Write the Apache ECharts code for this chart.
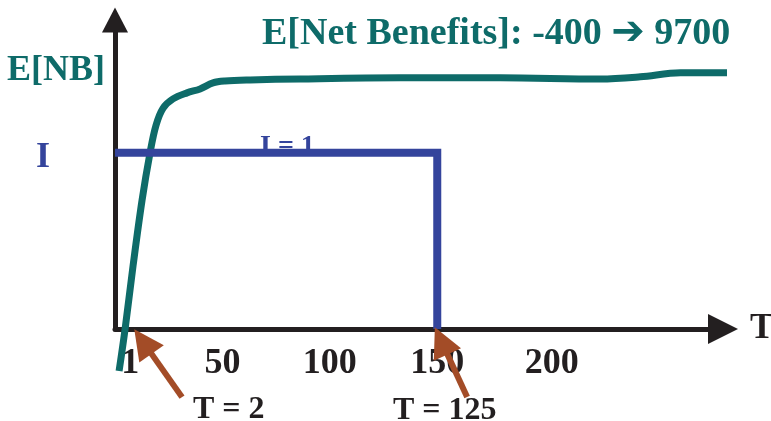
<!DOCTYPE html>
<html>
<head>
<meta charset="utf-8">
<script src="https://cdn.jsdelivr.net/npm/echarts@6/dist/echarts.min.js"></script>
<style>html,body{margin:0;padding:0;background:#fff}#c{width:771px;height:421px}</style>
</head>
<body>
<div id="c"></div>
<script>
// ---- data ----
const tValues = [1.9, 4.7, 8.4, 12.6, 16.3, 19.1, 22.4, 27.0, 33.5, 39.6, 45.6, 51.2, 62.9, 86.2, 132.7, 179.3, 225.9, 244.5, 263.2, 290.2];
const netBenefit = [-1600, 0, 2400, 4900, 6700, 7750, 8400, 8750, 8980, 9130, 9360, 9430, 9470, 9510, 9550, 9550, 9510, 9590, 9740, 9740];
const invT = [0, 150, 150];
const invLevel = [6700, 6700, 0];
const tickValues = [1, 50, 100, 150, 200];
const tickLabels = ['1', '50', '100', '150', '200'];
const arrowFrom = [[31.2, -2590], [163.9, -2590]];
const arrowTo = [[13.0, -480], [151.8, -450]];
const arrowTexts = ['T = 2', 'T = 125'];
const titleParts = ['E[Net Benefits]: -400 ', '\u2794', ' 9700'];
const yName = 'E[NB]';
const levelName = 'I';
const levelText = 'I = 1';
const xName = 'T';

// ---- styles ----
const TEAL = '#0e6b69', BLUE = '#34449c', BROWN = '#a34c27', BLACK = '#231f20';
const FONT = '"Liberation Serif","Times New Roman",serif';
const labelShift = {0: 26, 4: 14};

const chart = echarts.init(document.getElementById('c'), null, {renderer: 'canvas'});
const txt = (size, color) => ({fontFamily: FONT, fontWeight: 'bold', fontSize: size, color: color});

chart.setOption({
  animation: false,
  backgroundColor: '#fff',
  title: [
    {text: '{t|' + titleParts[0] + '}{a|' + titleParts[1] + '}{t|' + titleParts[2] + '}', left: 262, top: 14, padding: 0,
     textStyle: Object.assign(txt(38, TEAL), {rich: {
       t: Object.assign(txt(38, TEAL), {lineHeight: 40}),
       a: Object.assign(txt(40, TEAL), {fontFamily: '"DejaVu Sans",sans-serif', lineHeight: 40})
     }})},
    {text: yName, left: 7, top: 53, padding: 0, textStyle: txt(36, TEAL)},
    {text: levelName, left: 36, top: 140, padding: 0, textStyle: txt(36, BLUE)},
    {text: levelText, left: 260, top: 133, padding: 0, z: 0, textStyle: txt(28, BLUE)},
    {text: arrowTexts[0], left: 193, top: 394, padding: 0, textStyle: txt(32, BLACK)},
    {text: arrowTexts[1], left: 393, top: 395, padding: 0, textStyle: txt(32, BLACK)}
  ],
  grid: {left: 115, right: 48, top: 20, bottom: 92, containLabel: false, outerBoundsMode: 'none'},
  xAxis: {
    type: 'value', min: 0, max: 283,
    splitLine: {show: false},
    axisTick: {show: false},
    axisLine: {show: true, symbol: ['none', 'triangle'], symbolSize: [30, 30], lineStyle: {color: BLACK, width: 5}},
    axisLabel: {
      customValues: tickValues,
      margin: 17,
      formatter: v => {
        const i = tickValues.indexOf(v);
        const s = i >= 0 ? tickLabels[i] : '';
        return labelShift[i] ? '{s' + i + '|' + s + '}' : s;
      },
      rich: {
        s0: Object.assign({padding: [0, 0, 0, labelShift[0]]}, txt(36, BLACK)),
        s4: Object.assign({padding: [0, 0, 0, labelShift[4]]}, txt(36, BLACK))
      },
      ...txt(36, BLACK)
    },
    name: xName, nameLocation: 'end', nameGap: 27,
    nameTextStyle: Object.assign({align: 'left', verticalAlign: 'middle', padding: [4, 0, 0, 0]}, txt(36, BLACK))
  },
  yAxis: {
    type: 'value', min: 0, max: 11750,
    splitLine: {show: false},
    axisTick: {show: false},
    axisLabel: {show: false},
    axisLine: {show: true, symbol: ['none', 'triangle'], symbolSize: [26, 25], lineStyle: {color: BLACK, width: 5}}
  },
  series: [
    {
      type: 'line', clip: false, z: 2,
      data: tValues.map((t, i) => [t, netBenefit[i]]),
      smooth: 0.35, showSymbol: false, symbol: 'none',
      lineStyle: {color: TEAL, width: 7}
    },
    {
      type: 'line', clip: false, z: 3,
      data: invT.map((t, i) => [t, invLevel[i]]),
      showSymbol: false, symbol: 'none',
      lineStyle: {color: BLUE, width: 8, cap: 'butt', join: 'miter'}
    },
    {
      type: 'lines', coordinateSystem: 'cartesian2d', clip: false, z: 4,
      symbol: ['none', 'triangle'], symbolSize: 30,
      lineStyle: {color: BROWN, width: 6, opacity: 1, curveness: 0},
      itemStyle: {color: BROWN},
      data: arrowFrom.map((f, i) => ({coords: [f, arrowTo[i]]}))
    }
  ]
});
</script>
</body>
</html>
